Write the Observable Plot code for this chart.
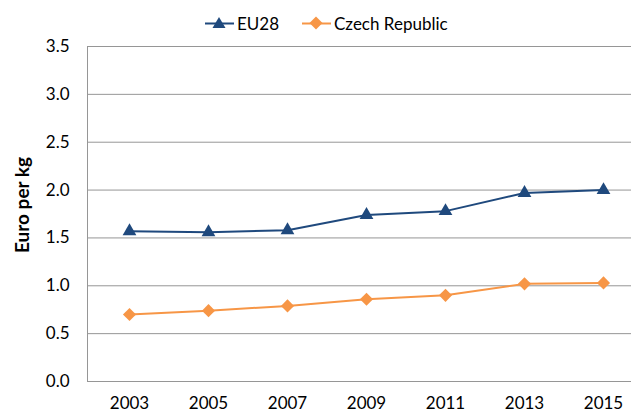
<!DOCTYPE html>
<html>
<head>
<meta charset="utf-8">
<script src="https://cdn.jsdelivr.net/npm/d3@7"></script>
<script src="https://cdn.jsdelivr.net/npm/@observablehq/plot@0.6"></script>
<style>
  html, body { margin: 0; padding: 0; background: #fff; }
  body { width: 631px; height: 414px; overflow: hidden; font-family: Lato, "Open Sans", sans-serif; }
  #legend { position: relative; height: 36px; font-size: 17px; color: #000; }
  .item { position: absolute; top: 13px; display: flex; align-items: center; height: 20px; white-space: nowrap; }
  .item svg { margin-right: 2px; }
</style>
</head>
<body>
<div id="legend"></div>
<div id="chart"></div>
<script>
const years = ["2003", "2005", "2007", "2009", "2011", "2013", "2015"];
const seriesNames = ["EU28", "Czech Republic"];
const eu28 = [1.57, 1.56, 1.58, 1.74, 1.78, 1.97, 2.00];
const czech = [0.70, 0.74, 0.79, 0.86, 0.90, 1.02, 1.03];
const yTicks = [0, 0.5, 1.0, 1.5, 2.0, 2.5, 3.0, 3.5];
const colors = ["#1F497D", "#F79646"];
const symbols = ["triangle", "diamond2"];

const data = [
  ...years.map((y, i) => ({year: y, value: eu28[i], series: seriesNames[0]})),
  ...years.map((y, i) => ({year: y, value: czech[i], series: seriesNames[1]}))
];

// Legend
const legend = document.getElementById("legend");
const legendX = [204, 301];
seriesNames.forEach((name, i) => {
  const div = document.createElement("div");
  div.className = "item";
  div.style.left = legendX[i] + "px";
  const marker = i === 0
    ? `<path d="M15,4 L21.5,15 L8.5,15 Z" fill="${colors[i]}"/>`
    : `<path d="M15,3.5 L21.5,10 L15,16.5 L8.5,10 Z" fill="${colors[i]}"/>`;
  div.innerHTML = `<svg width="31" height="20"><line x1="1" x2="30" y1="10.5" y2="10.5" stroke="${colors[i]}" stroke-width="2"/>${marker}</svg><span>${name}</span>`;
  legend.appendChild(div);
});

const chart = Plot.plot({
  width: 631,
  height: 378,
  marginLeft: 87,
  marginRight: 0,
  marginTop: 10,
  marginBottom: 33,
  style: {fontFamily: "Lato, 'Open Sans', sans-serif", fontSize: "17px", color: "#000", background: "#fff"},
  x: {type: "point", domain: years, range: [128, 604], padding: 0},
  y: {domain: [0, 3.5]},
  color: {domain: seriesNames, range: colors},
  symbol: {domain: seriesNames, range: symbols},
  marks: [
    Plot.gridY(yTicks.filter(d => d > 0), {stroke: "#969696", strokeOpacity: 1, strokeWidth: 1}),
    Plot.ruleY([0], {stroke: "#969696", strokeWidth: 1}),
    Plot.frame({anchor: "left", stroke: "#969696", strokeWidth: 1}),
    Plot.axisY({ticks: yTicks, tickFormat: d3.format(".1f"), tickSize: 0, tickPadding: 18, label: null, fontSize: 17}),
    Plot.axisX({tickSize: 0, tickPadding: 15, label: null, fontSize: 17}),
    Plot.text(["Euro per kg"], {frameAnchor: "left", textAnchor: "middle", rotate: -90, dx: -65, dy: -9, fontWeight: "bold", fontSize: 19, fill: "#000"}),
    Plot.line(data, {x: "year", y: "value", z: "series", stroke: "series", strokeWidth: 2}),
    Plot.dot(data.filter(d => d.series === seriesNames[0]), {x: "year", y: "value", symbol: "series", fill: "series", r: 5.1, stroke: "none"}),
    Plot.dot(data.filter(d => d.series === seriesNames[1]), {x: "year", y: "value", symbol: "series", fill: "series", r: 5.9, stroke: "none"})
  ]
});
document.getElementById("chart").appendChild(chart);
</script>
</body>
</html>
